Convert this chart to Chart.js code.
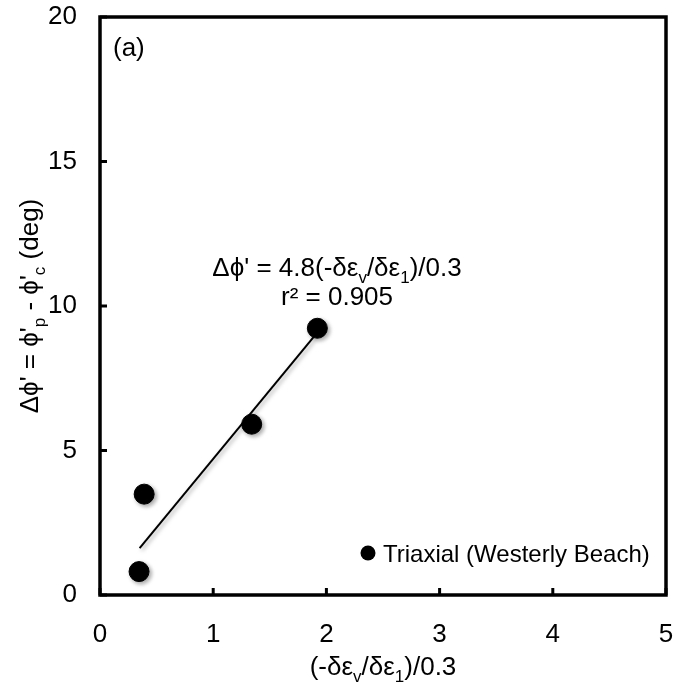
<!DOCTYPE html>
<html>
<head>
<meta charset="utf-8">
<script src="https://cdn.jsdelivr.net/npm/chart.js@4"></script>
<style>
  body { margin: 0; background: #fff; }
</style>
</head>
<body>
<canvas id="myChart" width="678" height="690"></canvas>
<script>
// measured points (Triaxial, Westerly Beach)
const xValues = [0.345, 0.39, 1.34, 1.92]
const yValues = [0.81, 3.49, 5.91, 9.23]
// fitted trend line end points
const trendX = [0.35, 1.89]
const trendY = [1.62, 8.94]
const xTicks = [0, 1, 2, 3, 4, 5]
const yTicks = [0, 5, 10, 15, 20]
const seriesName = 'Triaxial (Westerly Beach)'

const FONT = "'Liberation Sans', Arial, sans-serif"

// draws text pieces, some of them as subscripts; align = left/center
function richText(ctx, parts, x, y, size, align) {
  const big = size + 'px ' + FONT
  const small = Math.round(size * 0.66) + 'px ' + FONT
  let total = 0
  parts.forEach(p => {
    ctx.font = p.sub ? small : big
    total += ctx.measureText(p.t).width
  })
  let cx = align === 'center' ? x - total / 2 : x
  ctx.textAlign = 'left'
  ctx.textBaseline = 'alphabetic'
  parts.forEach(p => {
    ctx.font = p.sub ? small : big
    ctx.fillText(p.t, cx, p.sub ? y + size * 0.27 : y)
    cx += ctx.measureText(p.t).width
  })
}

const extras = {
  id: 'extras',
  beforeDatasetsDraw(chart) {
    const ctx = chart.ctx
    ctx.save()
    ctx.shadowColor = 'rgba(0,0,0,0.35)'
    ctx.shadowBlur = 4
    ctx.shadowOffsetX = 2
    ctx.shadowOffsetY = 2
  },
  afterDatasetsDraw(chart) {
    chart.ctx.restore()
  },
  afterDraw(chart) {
    const ctx = chart.ctx
    const a = chart.chartArea
    const xs = chart.scales.x, ys = chart.scales.y
    ctx.save()
    // frame
    ctx.strokeStyle = '#000'
    ctx.lineWidth = 3.5
    ctx.strokeRect(a.left, a.top, a.right - a.left, a.bottom - a.top)
    // inside tick marks
    ctx.lineWidth = 3
    xTicks.forEach(v => {
      const px = xs.getPixelForValue(v)
      ctx.beginPath(); ctx.moveTo(px, a.bottom); ctx.lineTo(px, a.bottom - 7); ctx.stroke()
    })
    yTicks.forEach(v => {
      const py = ys.getPixelForValue(v)
      ctx.beginPath(); ctx.moveTo(a.left, py); ctx.lineTo(a.left + 7, py); ctx.stroke()
    })
    ctx.fillStyle = '#000'
    // panel label
    richText(ctx, [{t: '(a)'}], a.left + 13, a.top + 39, 26, 'left')
    // equation of the fit
    richText(ctx, [{t: "Δϕ' = 4.8(-δε"}, {t: 'v', sub: true}, {t: '/δε'}, {t: '1', sub: true}, {t: ')/0.3'}], 337, 276, 26, 'center')
    richText(ctx, [{t: 'r² = 0.905'}], 337, 305, 26, 'center')
    // legend
    ctx.beginPath()
    ctx.arc(368, 553, 7.5, 0, Math.PI * 2)
    ctx.fill()
    richText(ctx, [{t: chart.data.datasets[0].label}], 383, 562, 24, 'left')
    // axis titles
    richText(ctx, [{t: '(-δε'}, {t: 'v', sub: true}, {t: '/δε'}, {t: '1', sub: true}, {t: ')/0.3'}], (a.left + a.right) / 2, 675, 26, 'center')
    ctx.save()
    ctx.translate(38, (a.top + a.bottom) / 2)
    ctx.rotate(-Math.PI / 2)
    richText(ctx, [{t: "Δϕ' = ϕ'"}, {t: 'p', sub: true}, {t: " - ϕ'"}, {t: 'c', sub: true}, {t: ' (deg)'}], 0, 0, 26, 'center')
    ctx.restore()
    ctx.restore()
  }
}

function makeChart() {
  const ctx = document.getElementById('myChart').getContext('2d')
  const chart = new Chart(ctx, {
    type: 'scatter',
    data: {
      datasets: [{
        label: seriesName,
        data: xValues.map((x, i) => ({x: x, y: yValues[i]})),
        backgroundColor: '#000',
        borderColor: '#000',
        pointRadius: 10,
        pointHoverRadius: 10
      }, {
        label: 'fit',
        type: 'line',
        data: trendX.map((x, i) => ({x: x, y: trendY[i]})),
        borderColor: '#000',
        borderWidth: 2,
        pointRadius: 0,
        fill: false
      }]
    },
    options: {
      responsive: false,
      animation: false,
      layout: {padding: {left: 0, right: 12, top: 17, bottom: 0}},
      plugins: {legend: {display: false}, tooltip: {enabled: false}},
      scales: {
        x: {
          type: 'linear', min: 0, max: 5,
          afterBuildTicks: s => { s.ticks = xTicks.map(v => ({value: v})) },
          afterFit: s => { s.height = 95; s.paddingLeft = 0; s.paddingRight = 0 },
          grid: {display: false, drawTicks: false},
          border: {display: false},
          ticks: {color: '#000', padding: 24, maxRotation: 0, font: {family: FONT, size: 26}}
        },
        y: {
          type: 'linear', min: 0, max: 20,
          afterBuildTicks: s => { s.ticks = yTicks.map(v => ({value: v})) },
          afterFit: s => { s.width = 100; s.paddingTop = 0; s.paddingBottom = 0 },
          grid: {display: false, drawTicks: false},
          border: {display: false},
          ticks: {color: '#000', padding: 23, font: {family: FONT, size: 26}}
        }
      }
    },
    plugins: [extras]
  })
}
makeChart()
</script>
</body>
</html>
